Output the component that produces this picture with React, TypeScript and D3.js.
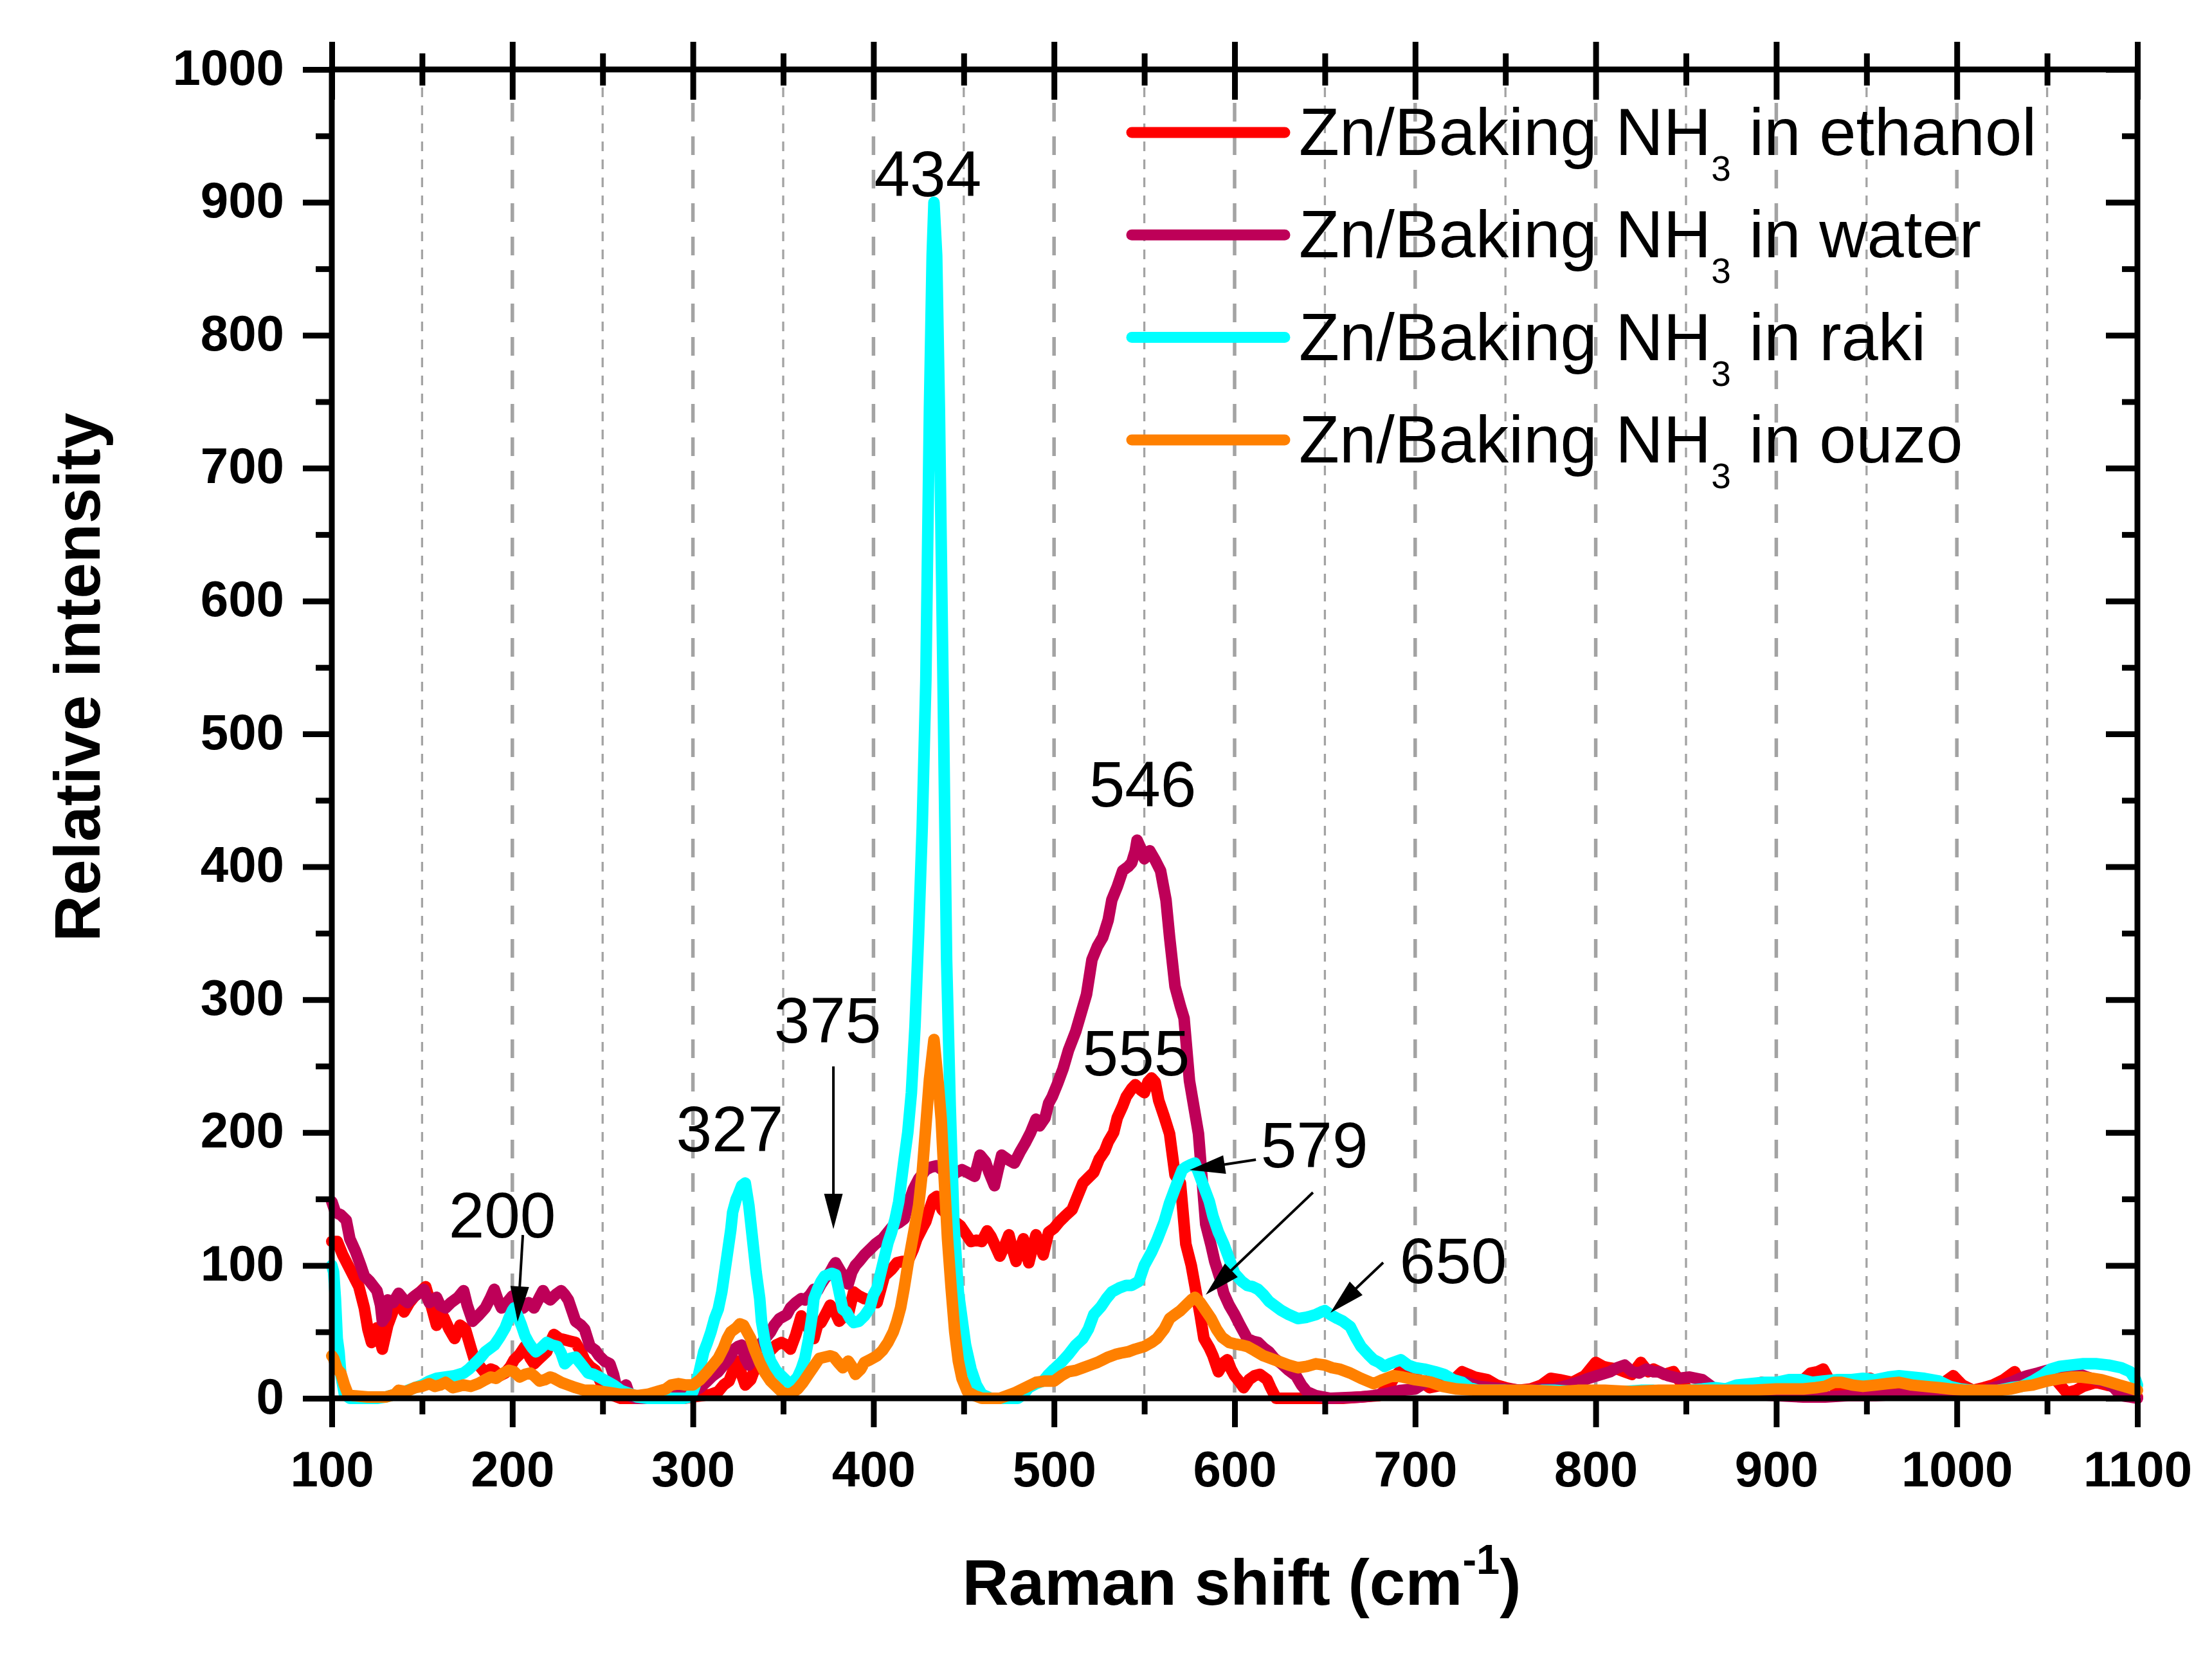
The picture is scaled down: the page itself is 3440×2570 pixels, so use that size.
import React, { useEffect, useRef } from "react";
import * as d3 from "d3";

const W = 3440;
const H = 2570;
const M = { left: 516, right: 116, top: 108, bottom: 396 };
const FONT = "'Liberation Sans', Arial, Helvetica, sans-serif";

const xMajorTicks = [100, 200, 300, 400, 500, 600, 700, 800, 900, 1000, 1100];
const xMinorTicks = [150, 250, 350, 450, 550, 650, 750, 850, 950, 1050];
const yMajorTicks = [0, 100, 200, 300, 400, 500, 600, 700, 800, 900, 1000];
const yMinorTicks = [50, 150, 250, 350, 450, 550, 650, 750, 850, 950];

const seriesSolvents = ["ethanol", "water", "raki", "ouzo"];
const seriesColors = ["#FF0000", "#BE0058", "#00FFFF", "#FF8000"];

const ethanol: [number, number][] = [
  [100,118],[103,118],[106,108],[109,100],[112,92],[115,84],[118,68],[120,52],[122,42],[125,53],[128,37],[131,55],[134,66],[137,74],[140,65],[143,72],[146,77],[149,80],[152,84],[155,70],[158,55],[160,62],[162,61],[165,52],[168,45],[171,55],[174,52],[177,38],[179,29],[182,24],[185,19],[188,22],[190,21],[193,17],[196,19],[199,24],[201,29],[204,33],[207,39],[210,30],[212,26],[215,30],[219,35],[221,42],[223,48],[226,45],[229,44],[232,43],[235,42],[238,35],[240,29],[243,24],[246,21],[249,12],[252,6],[256,2],[260,0],[280,0],[295,0],[300,1],[305,2],[310,3],[314,5],[317,10],[320,13],[322,20],[325,28],[327,18],[329,10],[332,14],[335,25],[338,22],[340,30],[343,36],[346,40],[349,42],[352,40],[354,37],[357,48],[360,62],[363,55],[367,45],[369,55],[371,57],[373,62],[376,70],[379,64],[381,58],[384,62],[386,63],[389,80],[392,77],[395,75],[398,74],[402,72],[404,82],[406,92],[410,97],[413,102],[416,103],[419,103],[422,112],[424,120],[427,128],[429,133],[431,142],[433,150],[435,152],[438,142],[441,138],[444,134],[448,130],[451,124],[454,118],[457,119],[460,118],[463,126],[465,122],[468,113],[470,107],[473,116],[475,123],[477,112],[479,103],[481,112],[483,120],[486,102],[488,113],[490,123],[492,116],[494,108],[497,125],[500,128],[503,133],[506,137],[510,142],[513,152],[516,162],[519,166],[522,170],[525,180],[528,186],[530,193],[533,200],[535,211],[538,220],[540,227],[543,233],[545,236],[548,232],[550,230],[552,238],[554,241],[556,238],[558,224],[561,212],[564,199],[567,168],[570,162],[573,116],[576,100],[578,85],[581,62],[583,45],[586,38],[588,32],[591,20],[594,27],[596,29],[598,22],[600,17],[603,12],[605,8],[608,14],[611,17],[614,18],[618,14],[620,8],[623,0],[640,0],[660,0],[680,2],[686,10],[689,17],[693,22],[700,16],[708,8],[715,10],[720,12],[726,20],[733,16],[740,14],[745,10],[750,8],[757,6],[764,7],[770,10],[775,15],[780,14],[787,12],[794,17],[800,27],[804,24],[807,23],[812,22],[816,20],[820,18],[825,27],[829,20],[832,22],[838,18],[843,20],[847,12],[851,7],[860,5],[873,6],[880,8],[887,10],[892,12],[898,8],[906,7],[912,10],[919,19],[923,20],[926,22],[930,12],[933,7],[940,6],[946,10],[952,15],[958,10],[965,8],[971,6],[980,7],[988,10],[993,12],[998,17],[1003,10],[1009,6],[1015,8],[1020,10],[1026,14],[1030,18],[1032,20],[1036,10],[1042,12],[1048,15],[1052,20],[1056,12],[1061,4],[1066,6],[1070,9],[1077,12],[1083,10],[1090,8],[1095,4],[1100,1]
];

const water: [number, number][] = [
  [100,148],[102,140],[105,138],[108,134],[110,120],[113,111],[116,100],[118,92],[121,88],[125,81],[127,70],[128,58],[130,62],[131,74],[134,72],[137,79],[140,74],[142,72],[145,76],[148,79],[151,82],[154,72],[158,76],[160,70],[163,68],[166,72],[170,76],[173,81],[175,70],[178,58],[181,62],[185,68],[188,76],[190,82],[192,74],[194,68],[197,72],[200,77],[203,70],[206,68],[209,72],[212,68],[215,76],[217,81],[219,76],[221,74],[224,78],[227,81],[229,78],[231,74],[233,66],[235,58],[238,55],[240,52],[243,39],[246,36],[248,32],[251,28],[254,26],[256,18],[258,6],[261,8],[263,10],[265,2],[268,0],[280,0],[285,2],[288,5],[292,5],[296,3],[300,5],[304,8],[308,13],[311,17],[314,20],[317,25],[320,30],[323,37],[325,39],[327,40],[329,30],[331,25],[334,35],[337,40],[340,45],[343,50],[345,55],[348,60],[352,63],[354,68],[357,72],[360,75],[362,74],[365,78],[367,82],[369,81],[371,86],[373,90],[376,95],[378,100],[379,102],[382,95],[384,90],[386,86],[388,95],[390,100],[392,103],[395,108],[398,112],[401,116],[405,120],[408,125],[411,130],[414,132],[417,135],[419,145],[422,157],[425,165],[429,172],[432,174],[435,175],[438,172],[441,168],[443,167],[446,170],[449,172],[452,170],[456,167],[459,183],[462,178],[464,170],[467,160],[469,172],[471,183],[474,180],[478,177],[481,185],[484,192],[487,200],[490,210],[492,205],[495,211],[497,222],[499,227],[502,237],[505,248],[508,262],[512,276],[515,290],[518,304],[521,330],[524,340],[527,347],[530,360],[532,375],[535,385],[538,397],[541,400],[543,403],[545,412],[546,420],[548,414],[550,406],[553,412],[556,405],[559,397],[562,375],[564,347],[567,310],[570,295],[572,286],[575,239],[578,215],[580,199],[582,165],[584,131],[587,115],[589,103],[592,90],[594,79],[597,70],[600,63],[603,55],[607,45],[610,43],[613,42],[616,38],[619,35],[622,30],[626,26],[630,21],[634,17],[637,10],[640,5],[645,2],[653,0],[670,1],[677,2],[685,4],[692,6],[700,7],[708,14],[715,10],[720,12],[728,12],[735,9],[742,8],[750,7],[760,6],[770,7],[777,7],[785,10],[790,12],[796,15],[803,18],[808,20],[812,23],[816,25],[820,20],[824,19],[828,22],[832,20],[835,20],[840,17],[846,15],[852,16],[859,14],[865,8],[873,4],[885,3],[900,2],[915,1],[927,1],[940,2],[955,2],[970,3],[982,4],[995,5],[1005,4],[1015,6],[1023,9],[1030,12],[1035,15],[1039,17],[1045,19],[1050,21],[1055,20],[1058,22],[1063,20],[1068,18],[1072,16],[1077,14],[1083,12],[1087,8],[1091,2],[1096,1],[1100,0]
];

const raki: [number, number][] = [
  [100,100],[101,95],[102,75],[103,45],[104,35],[105,18],[107,3],[110,0],[125,0],[130,1],[135,3],[140,4],[142,6],[146,8],[150,10],[154,13],[158,15],[163,16],[168,17],[173,19],[176,22],[179,26],[182,30],[185,35],[188,38],[190,40],[193,46],[196,53],[198,60],[200,66],[201,68],[203,62],[205,55],[207,47],[209,42],[211,38],[213,35],[216,38],[219,42],[222,40],[225,39],[227,34],[229,26],[232,30],[235,31],[238,26],[242,19],[245,18],[248,16],[252,13],[256,10],[260,6],[262,5],[266,3],[269,1],[275,0],[295,0],[298,1],[300,5],[303,17],[306,35],[308,42],[310,50],[312,60],[314,67],[316,80],[319,108],[321,127],[322,140],[324,150],[325,153],[327,160],[329,162],[331,145],[333,120],[335,95],[337,75],[338,58],[340,42],[343,28],[346,21],[349,17],[352,13],[354,11],[356,13],[358,16],[360,22],[362,30],[364,44],[366,62],[367,75],[369,82],[371,88],[373,92],[375,93],[377,94],[379,93],[381,80],[383,67],[385,65],[387,60],[389,57],[392,58],[395,62],[398,68],[400,78],[402,83],[405,100],[408,117],[410,125],[412,135],[414,148],[417,180],[419,200],[421,230],[423,280],[425,350],[427,430],[429,540],[431,745],[432.5,860],[433.5,900],[435,860],[436.5,745],[438.5,540],[440.5,330],[442.5,220],[444.5,133],[447,80],[449,60],[451,40],[454,22],[457,10],[460,3],[465,0],[480,0],[483,3],[486,8],[490,11],[494,13],[497,18],[500,22],[504,27],[508,33],[512,40],[516,45],[519,52],[522,63],[526,69],[529,75],[532,80],[536,83],[540,85],[543,85],[547,88],[550,100],[554,110],[557,119],[561,133],[564,147],[567,158],[569,165],[571,172],[573,174],[576,176],[578,177],[580,170],[583,159],[586,148],[588,137],[591,125],[594,116],[597,105],[600,94],[604,88],[607,85],[610,84],[613,82],[616,78],[619,73],[622,70],[626,66],[630,63],[635,60],[640,61],[645,63],[648,65],[650,66],[653,63],[657,60],[660,58],[664,54],[667,46],[670,39],[674,33],[677,29],[680,27],[683,24],[686,26],[690,28],[692,29],[696,25],[700,23],[705,22],[711,20],[716,18],[721,14],[726,12],[730,8],[735,6],[742,6],[750,6],[760,5],[770,6],[777,6],[790,5],[805,4],[815,5],[825,6],[832,6],[840,5],[850,6],[859,7],[866,8],[872,7],[878,10],[886,11],[893,12],[900,12],[907,14],[914,14],[920,12],[926,13],[934,14],[941,14],[948,15],[955,14],[962,16],[968,17],[975,16],[982,15],[990,13],[996,9],[1002,7],[1009,6],[1016,5],[1023,6],[1030,8],[1036,9],[1042,13],[1047,17],[1052,22],[1057,24],[1063,25],[1070,26],[1077,26],[1084,25],[1091,23],[1096,20],[1099,14],[1100,10]
];

const ouzo: [number, number][] = [
  [100,32],[101,30],[103,22],[105,19],[107,10],[109,3],[112,2],[120,1],[130,1],[135,3],[137,6],[141,5],[146,8],[150,9],[154,11],[157,9],[160,10],[163,12],[167,8],[170,9],[173,10],[177,9],[181,11],[185,14],[188,16],[191,15],[195,19],[198,21],[201,20],[204,16],[207,18],[210,19],[212,17],[215,13],[218,14],[221,16],[223,15],[227,12],[231,10],[235,8],[240,6],[245,6],[250,5],[255,4],[260,3],[265,3],[269,2],[275,3],[280,5],[285,7],[288,10],[292,11],[296,10],[300,10],[304,14],[308,20],[311,25],[314,30],[317,38],[319,45],[321,50],[324,53],[326,56],[328,55],[330,50],[332,45],[334,37],[337,27],[340,19],[343,13],[346,9],[349,5],[352,3],[355,4],[358,7],[361,12],[364,18],[367,24],[370,30],[373,31],[376,32],[378,31],[381,26],[383,23],[386,28],[388,24],[390,18],[393,22],[395,27],[398,29],[402,32],[405,36],[408,42],[411,50],[413,58],[415,68],[417,83],[419,100],[421,115],[423,130],[425,145],[427,170],[429,205],[431,240],[433.5,270],[436,235],[437.5,210],[439,170],[441,120],[443,83],[445,50],[447,28],[449,15],[452,5],[456,2],[460,0],[470,0],[478,4],[484,8],[490,12],[495,13],[500,13],[504,17],[508,20],[512,21],[516,23],[520,25],[524,27],[527,29],[530,31],[534,33],[537,34],[541,35],[545,37],[550,39],[554,42],[557,45],[561,52],[564,60],[567,63],[570,66],[573,70],[576,74],[578,76],[581,72],[584,66],[587,60],[590,52],[593,46],[597,42],[600,41],[604,40],[607,39],[611,36],[616,32],[620,30],[626,27],[630,25],[635,23],[640,24],[645,26],[650,25],[654,23],[658,22],[664,19],[670,15],[677,11],[682,14],[688,17],[693,16],[700,14],[705,13],[709,12],[715,9],[723,7],[735,6],[750,6],[764,6],[780,5],[790,6],[805,6],[820,5],[835,6],[846,6],[860,6],[875,6],[887,6],[900,7],[915,7],[922,8],[927,9],[932,12],[936,12],[942,10],[948,9],[955,10],[961,11],[968,12],[975,10],[982,9],[990,8],[996,7],[1005,6],[1015,6],[1023,6],[1030,7],[1036,9],[1042,10],[1050,13],[1058,15],[1064,16],[1069,16],[1075,15],[1080,14],[1085,12],[1090,10],[1095,8],[1100,6]
];

const seriesData = [ethanol, water, raki, ouzo];

const peakLabels = ["434", "546", "555", "579", "650", "327", "375", "200"];
const peakLabelX = [430.1, 549.1, 545.5, 644.2, 721.1, 320.4, 374.6, 194.4];
const peakLabelY = [904.6, 445.3, 243.0, 173.8, 86.6, 185.9, 267.7, 121.0];

// arrows: start (x1,y1) -> tip (x2,y2), in data units
const arrowX1 = [205.8, 377.8, 611.8, 643.4, 682.3];
const arrowY1 = [122.9, 249.8, 179.6, 154.9, 102.1];
const arrowX2 = [202.9, 377.8, 575.1, 584.0, 653.1];
const arrowY2 = [57.6, 127.3, 171.8, 77.9, 64.4];

export default function App() {
  const ref = useRef<SVGSVGElement>(null);

  useEffect(() => {
    const svg = d3.select(ref.current);
    svg.selectAll("*").remove();

    const x = d3.scaleLinear().domain([100, 1100]).range([M.left, W - M.right]);
    const y = d3.scaleLinear().domain([0, 1000]).range([H - M.bottom, M.top]);

    svg.append("rect").attr("width", W).attr("height", H).attr("fill", "#fff");

    // vertical grid lines
    const grid = svg.append("g");
    const gridVals = [...xMinorTicks, ...xMajorTicks.filter((v) => v > 100 && v < 1100)];
    gridVals.forEach((v) => {
      const major = v % 100 === 0;
      grid
        .append("line")
        .attr("x1", x(v))
        .attr("x2", x(v))
        .attr("y1", y(1000))
        .attr("y2", y(0))
        .attr("stroke", "#A3A3A3")
        .attr("stroke-width", major ? 5.5 : 3.3)
        .attr("stroke-dasharray", major ? "29,23" : "15,13");
    });

    // data lines
    const line = d3
      .line<[number, number]>()
      .x((d) => x(d[0]))
      .y((d) => y(d[1]));
    seriesData.forEach((data, i) => {
      svg
        .append("path")
        .attr("d", line(data) as string)
        .attr("fill", "none")
        .attr("stroke", seriesColors[i])
        .attr("stroke-width", 18)
        .attr("stroke-linejoin", "round")
        .attr("stroke-linecap", "round");
    });

    // frame
    svg
      .append("rect")
      .attr("x", x(100))
      .attr("y", y(1000))
      .attr("width", x(1100) - x(100))
      .attr("height", y(0) - y(1000))
      .attr("fill", "none")
      .attr("stroke", "#000")
      .attr("stroke-width", 9);

    const styleAxis = (g: any) => {
      g.select(".domain").remove();
      g.selectAll("line").attr("stroke", "#000").attr("stroke-width", 9);
    };

    // bottom axis
    const bottom = svg
      .append("g")
      .attr("transform", `translate(0,${y(0)})`)
      .call(d3.axisBottom(x).tickValues(xMajorTicks).tickSize(45).tickSizeOuter(0).tickFormat(d3.format("d")) as any);
    styleAxis(bottom);
    bottom
      .selectAll("text")
      .attr("y", 137)
      .attr("dy", null)
      .attr("font-size", 78)
      .attr("font-weight", "bold")
      .attr("font-family", FONT)
      .attr("fill", "#000");
    const bottomMinor = svg
      .append("g")
      .attr("transform", `translate(0,${y(0)})`)
      .call(d3.axisBottom(x).tickValues(xMinorTicks).tickSize(25).tickSizeOuter(0).tickFormat(() => "") as any);
    styleAxis(bottomMinor);

    // left axis
    const left = svg
      .append("g")
      .attr("transform", `translate(${x(100)},0)`)
      .call(d3.axisLeft(y).tickValues(yMajorTicks).tickSize(45).tickSizeOuter(0).tickFormat(d3.format("d")) as any);
    styleAxis(left);
    left
      .selectAll("text")
      .attr("x", -74)
      .attr("dy", 23)
      .attr("font-size", 78)
      .attr("font-weight", "bold")
      .attr("font-family", FONT)
      .attr("fill", "#000");
    const leftMinor = svg
      .append("g")
      .attr("transform", `translate(${x(100)},0)`)
      .call(d3.axisLeft(y).tickValues(yMinorTicks).tickSize(25).tickSizeOuter(0).tickFormat(() => "") as any);
    styleAxis(leftMinor);

    // top axis: ticks on both sides
    const topOut = svg
      .append("g")
      .attr("transform", `translate(0,${y(1000)})`)
      .call(d3.axisTop(x).tickValues(xMajorTicks).tickSize(43).tickSizeOuter(0).tickFormat(() => "") as any);
    styleAxis(topOut);
    const topIn = svg
      .append("g")
      .attr("transform", `translate(0,${y(1000)})`)
      .call(d3.axisBottom(x).tickValues(xMajorTicks).tickSize(47).tickSizeOuter(0).tickFormat(() => "") as any);
    styleAxis(topIn);
    const topMinorOut = svg
      .append("g")
      .attr("transform", `translate(0,${y(1000)})`)
      .call(d3.axisTop(x).tickValues(xMinorTicks).tickSize(25).tickSizeOuter(0).tickFormat(() => "") as any);
    styleAxis(topMinorOut);
    const topMinorIn = svg
      .append("g")
      .attr("transform", `translate(0,${y(1000)})`)
      .call(d3.axisBottom(x).tickValues(xMinorTicks).tickSize(25).tickSizeOuter(0).tickFormat(() => "") as any);
    styleAxis(topMinorIn);

    // right axis: inward ticks
    const right = svg
      .append("g")
      .attr("transform", `translate(${x(1100)},0)`)
      .call(d3.axisLeft(y).tickValues(yMajorTicks).tickSize(49).tickSizeOuter(0).tickFormat(() => "") as any);
    styleAxis(right);
    const rightMinor = svg
      .append("g")
      .attr("transform", `translate(${x(1100)},0)`)
      .call(d3.axisLeft(y).tickValues(yMinorTicks).tickSize(24).tickSizeOuter(0).tickFormat(() => "") as any);
    styleAxis(rightMinor);

    // axis titles
    svg
      .append("text")
      .attr("transform", `translate(155,1053) rotate(-90)`)
      .attr("text-anchor", "middle")
      .attr("font-family", FONT)
      .attr("font-weight", "bold")
      .attr("font-size", 100)
      .attr("fill", "#000")
      .text("Relative intensity");

    const xTitle = svg
      .append("text")
      .attr("x", 1931)
      .attr("y", 2495)
      .attr("text-anchor", "middle")
      .attr("font-family", FONT)
      .attr("font-weight", "bold")
      .attr("font-size", 100)
      .attr("fill", "#000");
    xTitle.append("tspan").text("Raman shift (cm");
    xTitle.append("tspan").attr("font-size", 65).attr("dy", -48).text("-1");
    xTitle.append("tspan").attr("dy", 48).text(")");

    // legend
    const legend = svg.append("g");
    seriesSolvents.forEach((s, i) => {
      const ly = 206 + i * 159.3;
      legend
        .append("line")
        .attr("x1", 1760)
        .attr("x2", 1998)
        .attr("y1", ly)
        .attr("y2", ly)
        .attr("stroke", seriesColors[i])
        .attr("stroke-width", 17)
        .attr("stroke-linecap", "round");
      const t = legend
        .append("text")
        .attr("x", 2020)
        .attr("y", ly + 35)
        .attr("font-family", FONT)
        .attr("font-size", 103)
        .attr("fill", "#000")
        .style("white-space", "pre");
      t.append("tspan").text("Zn/Baking NH");
      t.append("tspan").attr("font-size", 55).attr("dy", 40).text("3");
      t.append("tspan").attr("dy", -40).text(" in " + s);
    });

    // peak labels
    peakLabels.forEach((lab, i) => {
      svg
        .append("text")
        .attr("x", x(peakLabelX[i]))
        .attr("y", y(peakLabelY[i]))
        .attr("text-anchor", "middle")
        .attr("font-family", FONT)
        .attr("font-size", 100)
        .attr("fill", "#000")
        .text(lab);
    });

    // arrows
    arrowX1.forEach((_, i) => {
      const sx = x(arrowX1[i]);
      const sy = y(arrowY1[i]);
      const tx = x(arrowX2[i]);
      const ty = y(arrowY2[i]);
      const len = Math.hypot(tx - sx, ty - sy);
      const ux = (tx - sx) / len;
      const uy = (ty - sy) / len;
      const hl = 55;
      const hw = 14.5;
      const bx = tx - ux * hl;
      const by = ty - uy * hl;
      svg
        .append("line")
        .attr("x1", sx)
        .attr("y1", sy)
        .attr("x2", bx + ux * 5)
        .attr("y2", by + uy * 5)
        .attr("stroke", "#000")
        .attr("stroke-width", 4);
      svg
        .append("polygon")
        .attr(
          "points",
          `${tx},${ty} ${bx - uy * hw},${by + ux * hw} ${bx + uy * hw},${by - ux * hw}`
        )
        .attr("fill", "#000");
    });
  }, []);

  return (
    <svg
      ref={ref}
      width={W}
      height={H}
      style={{ position: "absolute", left: 0, top: 0, background: "#fff" }}
    />
  );
}
